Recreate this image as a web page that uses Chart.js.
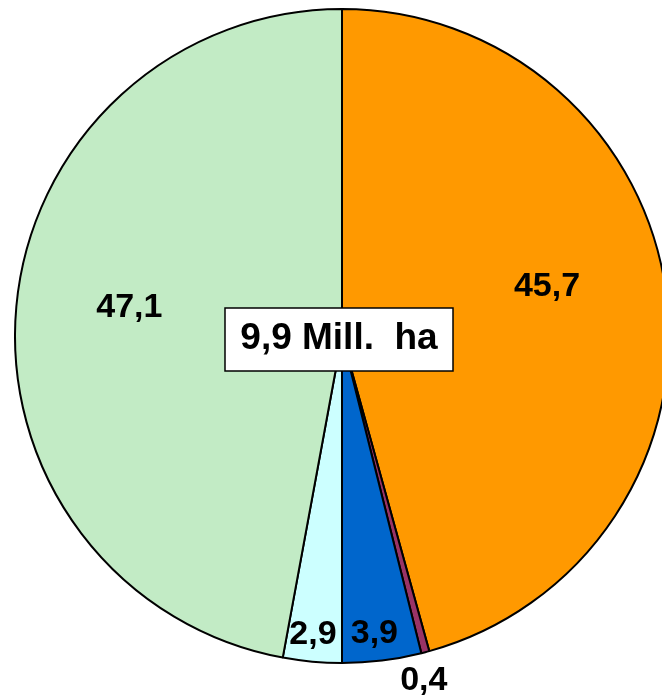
<!DOCTYPE html>
<html>
<head>
<meta charset="utf-8">
<script src="https://cdn.jsdelivr.net/npm/chart.js@4/dist/chart.umd.min.js"></script>
<style>
  html, body { margin: 0; padding: 0; background: #fff; overflow: hidden; }
  #wrap { width: 662px; height: 697px; overflow: hidden; position: relative; }
  #myChart { display: block; }
</style>
</head>
<body>
<div id="wrap"><canvas id="myChart" width="684" height="697"></canvas></div>
<script>
// data, clockwise from 12 o'clock
const categories = ['Anteil 1', 'Anteil 2', 'Anteil 3', 'Anteil 4', 'Anteil 5'];
const shares = [45.7, 0.4, 3.9, 2.9, 47.1];
const valueLabels = ['45,7', '0,4', '3,9', '2,9', '47,1'];
const totalLabel = '9,9 Mill.  ha';

const sliceColors = ['#FF9900', '#993366', '#0066CC', '#CCFFFF', '#C2EBC5'];

// label placement: fraction of the radius along the slice middle + small nudge
const labelRadius = [0.645, 1.078, 0.91, 0.91, 0.656];
const labelNudge = [[-4, -23], [-8, 2], [-4, 0], [-2, 0], [1, -11]];

let sliceLabels = {
  id: 'sliceLabels',
  afterDatasetsDraw(chart) {
    const ctx = chart.ctx;
    const arcs = chart.getDatasetMeta(0).data;
    ctx.save();
    ctx.font = 'bold 34px "Liberation Sans", Arial, sans-serif';
    ctx.fillStyle = '#000';
    ctx.textAlign = 'center';
    ctx.textBaseline = 'middle';
    arcs.forEach((arc, i) => {
      const mid = (arc.startAngle + arc.endAngle) / 2;
      const r = arc.outerRadius * labelRadius[i];
      const x = arc.x + Math.cos(mid) * r + labelNudge[i][0];
      const y = arc.y + Math.sin(mid) * r + labelNudge[i][1];
      ctx.fillText(valueLabels[i], x, y + 2);
    });

    // box in the middle
    const a = arcs[0];
    const bw = 228, bh = 63;
    const bx = a.x - 3 - bw / 2, by = a.y + 3.5 - bh / 2;
    ctx.fillStyle = '#fff';
    ctx.fillRect(bx, by, bw, bh);
    ctx.lineWidth = 1.5;
    ctx.strokeStyle = '#000';
    ctx.strokeRect(bx, by, bw, bh);
    ctx.fillStyle = '#000';
    ctx.font = 'bold 37px "Liberation Sans", Arial, sans-serif';
    ctx.fillText(totalLabel, a.x - 3, a.y + 2.5);
    ctx.restore();
  }
};

const ctx = document.getElementById('myChart');
const dataset = {
  labels: categories,
  datasets: [{
    data: shares,
    backgroundColor: sliceColors,
    borderColor: '#000',
    borderWidth: 2
  }]
};

const config = {
  type: 'pie',
  data: dataset,
  options: {
    responsive: false,
    devicePixelRatio: 1,
    animation: false,
    layout: { padding: { left: 14, right: 14, top: 8, bottom: 33 } },
    plugins: {
      legend: { display: false },
      tooltip: { enabled: false }
    }
  },
  plugins: [sliceLabels]
};
const chart = new Chart(ctx, config);
</script>
</body>
</html>
